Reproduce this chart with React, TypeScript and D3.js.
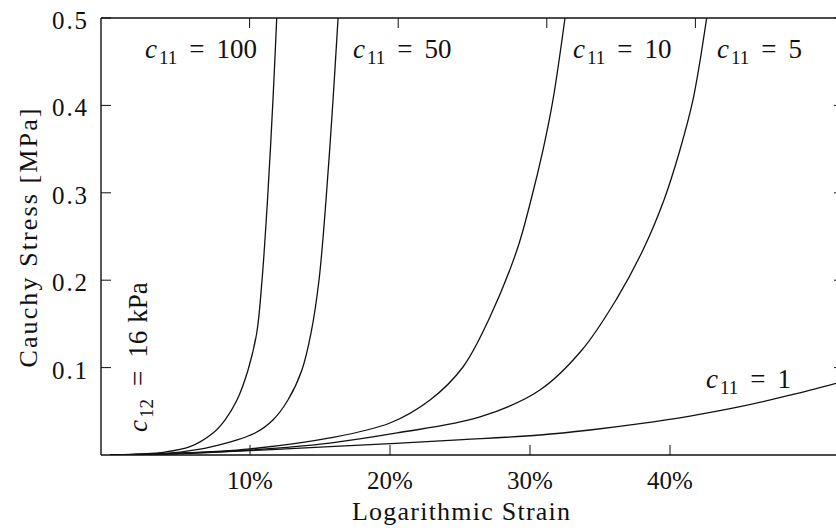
import React from "react";
import * as d3 from "d3";

// Cauchy stress (MPa) against logarithmic strain for several c11 values, c12 = 16 kPa
const strainC100 = [0, 0.0393, 0.0571, 0.0736, 0.0821, 0.0907, 0.0986, 0.1048, 0.1086, 0.1125, 0.1164, 0.1191];
const stressC100 = [0, 0.0034, 0.0095, 0.0252, 0.04, 0.0629, 0.0973, 0.1396, 0.2002, 0.2918, 0.4062, 0.5];

const strainC50 = [0, 0.05, 0.0729, 0.1036, 0.1164, 0.1271, 0.1371, 0.1436, 0.1493, 0.1543, 0.1593, 0.1629];
const stressC50 = [0, 0.0034, 0.0095, 0.0252, 0.04, 0.0629, 0.0973, 0.1396, 0.2002, 0.2918, 0.4062, 0.5];

const strainC10 = [0, 0.05, 0.1, 0.1571, 0.2, 0.2286, 0.2521, 0.2714, 0.2907, 0.3007, 0.3093, 0.3164, 0.325];
const stressC10 = [0, 0.002, 0.007, 0.0195, 0.0366, 0.0629, 0.1007, 0.158, 0.2346, 0.2918, 0.349, 0.4062, 0.5];

const strainC5 = [0, 0.05, 0.1, 0.157, 0.205, 0.2643, 0.3071, 0.3371, 0.3614, 0.3807, 0.3957, 0.4071, 0.4164, 0.4262];
const stressC5 = [0, 0.0015, 0.0057, 0.0137, 0.0252, 0.0435, 0.0744, 0.1201, 0.1773, 0.2346, 0.2918, 0.349, 0.4062, 0.5];

const strainC1 = [0, 0.05, 0.1, 0.157, 0.252, 0.3071, 0.3429, 0.3786, 0.4143, 0.45, 0.4857, 0.5186];
const stressC1 = [0, 0.002, 0.005, 0.0095, 0.0175, 0.0229, 0.0286, 0.0358, 0.0446, 0.0553, 0.0684, 0.082];

const xTicks = [0.1, 0.2, 0.3, 0.4];
const xTickLabels = ["10%", "20%", "30%", "40%"];
const yTicks = [0.1, 0.2, 0.3, 0.4, 0.5];
const yTickLabels = ["0.1", "0.2", "0.3", "0.4", "0.5"];
const topTicks = [0.1, 0.2, 0.3, 0.4];

const curveLabels = ["100", "50", "10", "5", "1"];

const W = 836;
const H = 530;
const left = 101;
const right = 844;
const top = 18;
const bottom = 455;

const FONT = "Liberation Serif, DejaVu Serif, serif";
const txt = { fontFamily: FONT };

export default function App() {
  const x = d3.scaleLinear().domain([0, 0.5]).range([110, 810]);
  const xTop = d3.scaleLinear().domain([0, 0.5]).range([left, right]);
  const y = d3.scaleLinear().domain([0, 0.5]).range([bottom, top]);

  const line = d3
    .line<[number, number]>()
    .x((d) => x(d[0]))
    .y((d) => y(d[1]))
    .curve(d3.curveCatmullRom.alpha(0.5));

  const series: [number[], number[]][] = [
    [strainC100, stressC100],
    [strainC50, stressC50],
    [strainC10, stressC10],
    [strainC5, stressC5],
    [strainC1, stressC1],
  ];

  const labelPos: [number, number][] = [
    [145, 58],
    [353, 58],
    [573, 58],
    [717, 58],
    [706, 388],
  ];

  const tick = 10;

  return (
    <svg
      width={W}
      height={H}
      style={{ position: "absolute", left: 0, top: 0, background: "#fff", fontFamily: FONT }}
    >
      <defs>
        <clipPath id="plot">
          <rect x={left} y={top} width={right - left} height={bottom - top} />
        </clipPath>
      </defs>
      <rect x={0} y={0} width={W} height={H} fill="#fff" />

      {/* curves */}
      <g clipPath="url(#plot)" fill="none" stroke="#111" strokeWidth={1.3}>
        {series.map(([sx, sy], i) => (
          <path key={i} d={line(sx.map((v, j) => [v, sy[j]] as [number, number])) || ""} />
        ))}
      </g>

      {/* frame */}
      <g stroke="#111" strokeWidth={1.4} fill="none">
        <line x1={left} y1={top} x2={left} y2={bottom} />
        <line x1={left} y1={bottom} x2={right} y2={bottom} />
        <line x1={left} y1={top} x2={right} y2={top} />
        <line x1={right} y1={top} x2={right} y2={bottom} />
      </g>

      {/* ticks */}
      <g stroke="#111" strokeWidth={1}>
        {xTicks.map((t) => (
          <line key={"b" + t} x1={x(t)} x2={x(t)} y1={bottom} y2={bottom - tick} />
        ))}
        {topTicks.map((t) => (
          <line key={"t" + t} x1={xTop(t)} x2={xTop(t)} y1={top} y2={top + tick} />
        ))}
        {yTicks.map((t) => (
          <line key={"l" + t} x1={left} x2={left + tick} y1={y(t)} y2={y(t)} />
        ))}
        {yTicks.map((t) => (
          <line key={"r" + t} x1={right} x2={right - tick} y1={y(t)} y2={y(t)} />
        ))}
      </g>

      {/* tick labels */}
      <g fill="#111" fontSize={25}>
        {xTicks.map((t, i) => (
          <text key={"xl" + t} style={txt} x={x(t)} y={489} textAnchor="middle">
            {xTickLabels[i]}
          </text>
        ))}
        {yTicks.map((t, i) => (
          <text
            key={"yl" + t}
            style={txt}
            x={87}
            y={y(t) + 11}
            textAnchor="end"
            textLength={35}
            lengthAdjust="spacing"
          >
            {yTickLabels[i]}
          </text>
        ))}
      </g>

      {/* axis titles */}
      <text
        style={txt}
        x={461}
        y={520}
        textAnchor="middle"
        fontSize={26}
        fill="#111"
        textLength={218}
        lengthAdjust="spacing"
      >
        Logarithmic Strain
      </text>
      <text
        style={txt}
        transform="translate(37,238) rotate(-90)"
        textAnchor="middle"
        fontSize={26}
        fill="#111"
        textLength={259}
        lengthAdjust="spacing"
      >
        Cauchy Stress [MPa]
      </text>

      {/* curve labels */}
      <g fill="#111" fontSize={27}>
        {curveLabels.map((v, i) => (
          <text key={"cl" + v} style={txt} x={labelPos[i][0]} y={labelPos[i][1]}>
            <tspan fontStyle="italic">c</tspan>
            <tspan fontSize={19} dy={6} dx={2}>
              11
            </tspan>
            <tspan dy={-6} dx={12}>
              =
            </tspan>
            <tspan dx={12}>{v}</tspan>
          </text>
        ))}
        <text style={txt} transform="translate(147,432) rotate(-90)">
          <tspan fontStyle="italic">c</tspan>
          <tspan fontSize={19} dy={6} dx={2}>
            12
          </tspan>
          <tspan dy={-6} dx={13}>
            =
          </tspan>
          <tspan dx={13}>16</tspan>
          <tspan dx={8}>kPa</tspan>
        </text>
      </g>
    </svg>
  );
}
